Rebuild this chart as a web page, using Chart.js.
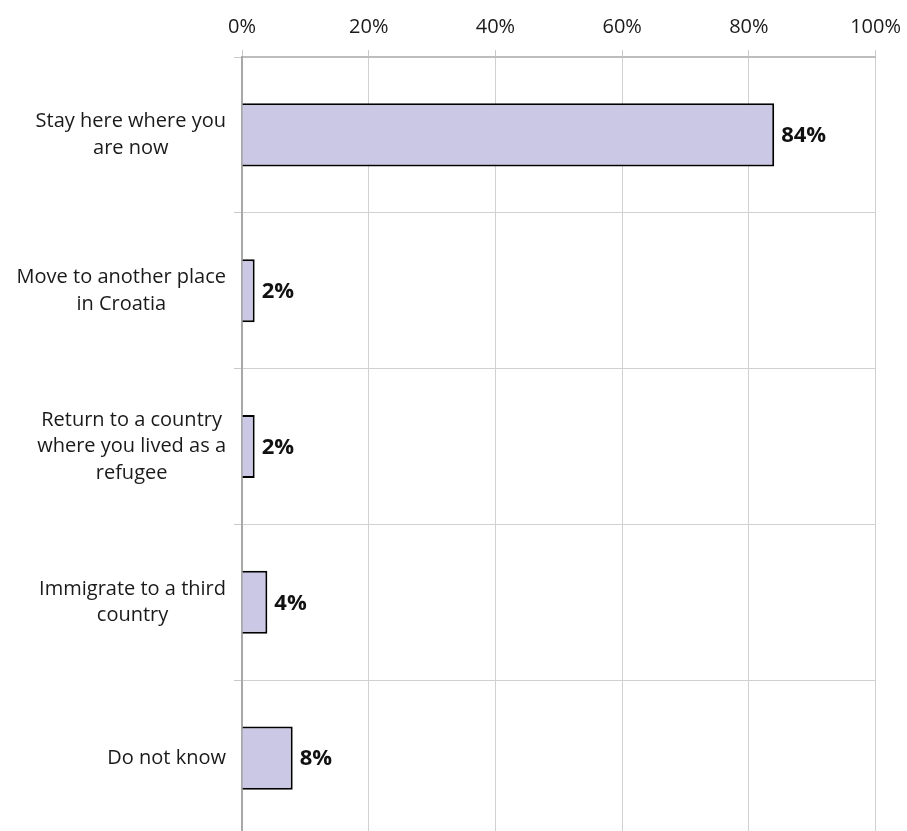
<!DOCTYPE html>
<html>
<head>
<meta charset="utf-8">
<script src="https://cdn.jsdelivr.net/npm/chart.js@4.4.1/dist/chart.umd.min.js"></script>
<style>
    html, body { margin: 0; padding: 0; background: #fff; overflow: hidden; }
    #wrap { width: 912px; height: 836px; position: relative; }
</style>
</head>
<body>
<div id="wrap"><canvas id="grafico"></canvas></div>
<script>
// dados
var categorias = [
    ['Stay here where you', 'are now'],
    ['Move to another place', 'in Croatia'],
    ['Return to a country', 'where you lived as a', 'refugee'],
    ['Immigrate to a third', 'country'],
    ['Do not know']
];
var valores = [84, 2, 2, 4, 8];
var ticksX = [0, 20, 40, 60, 80, 100];

var fonte = '"Open Sans", "Noto Sans", sans-serif';

// rótulos das categorias: bloco alinhado à direita, linhas centralizadas
var rotulosCategorias = {
    id: 'rotulosCategorias',
    afterDraw: function (chart) {
        var ctx = chart.ctx;
        var escalaY = chart.scales.y;
        var direita = chart.chartArea.left - 16;
        var alturaLinha = 26.5;
        ctx.save();
        ctx.font = '20px ' + fonte;
        ctx.fillStyle = '#1a1a1a';
        ctx.textAlign = 'center';
        ctx.textBaseline = 'middle';
        for (var i = 0; i < categorias.length; i++) {
            var linhas = categorias[i];
            var larguraMax = 0;
            for (var j = 0; j < linhas.length; j++) {
                larguraMax = Math.max(larguraMax, ctx.measureText(linhas[j]).width);
            }
            var cx = direita - larguraMax / 2;
            var cy = escalaY.getPixelForValue(i);
            var inicio = cy - (linhas.length - 1) * alturaLinha / 2;
            for (var j = 0; j < linhas.length; j++) {
                ctx.fillText(linhas[j], cx, inicio + j * alturaLinha);
            }
        }
        ctx.restore();
    }
};

// valores em negrito no fim de cada barra
var rotulosValores = {
    id: 'rotulosValores',
    afterDatasetsDraw: function (chart) {
        var ctx = chart.ctx;
        var meta = chart.getDatasetMeta(0);
        ctx.save();
        ctx.font = 'bold 22px ' + fonte;
        ctx.fillStyle = '#111';
        ctx.textAlign = 'left';
        ctx.textBaseline = 'middle';
        meta.data.forEach(function (barra, i) {
            ctx.fillText(valores[i] + '%', barra.x + 7, barra.y + 1);
        });
        ctx.restore();
    }
};

new Chart(document.getElementById('grafico'), {
    type: 'bar',
    data: {
        labels: categorias.map(function (c) { return c.join(' '); }),
        datasets: [{
            data: valores,
            backgroundColor: '#cbc8e6',
            borderColor: '#000',
            borderWidth: 2,
            borderSkipped: 'left',
            categoryPercentage: 1,
            barPercentage: 0.405
        }]
    },
    options: {
        indexAxis: 'y',
        responsive: true,
        maintainAspectRatio: false,
        animation: false,
        layout: { padding: { left: 0, right: 25, top: 0, bottom: 0 } },
        plugins: {
            legend: { display: false },
            tooltip: { enabled: false }
        },
        scales: {
            x: {
                position: 'top',
                min: 0,
                max: 100,
                afterBuildTicks: function (escala) {
                    escala.ticks = ticksX.map(function (v) { return { value: v }; });
                },
                afterFit: function (escala) { escala.height = 57; },
                grid: {
                    color: '#d0d0d0',
                    lineWidth: 1,
                    tickLength: 7,
                    tickColor: '#c8c8c8'
                },
                border: { display: true, color: '#bdbdbd', width: 2 },
                ticks: {
                    callback: function (v) { return v + '%'; },
                    font: { family: fonte, size: 20 },
                    color: '#1a1a1a',
                    padding: 11
                }
            },
            y: {
                afterFit: function (escala) { escala.width = 242; },
                grid: {
                    offset: true,
                    color: '#d0d0d0',
                    lineWidth: 1,
                    tickLength: 8,
                    tickColor: '#c8c8c8'
                },
                border: { display: true, color: '#a8a8a8', width: 2 },
                ticks: { display: false }
            }
        }
    },
    plugins: [rotulosCategorias, rotulosValores]
});
</script>
</body>
</html>
